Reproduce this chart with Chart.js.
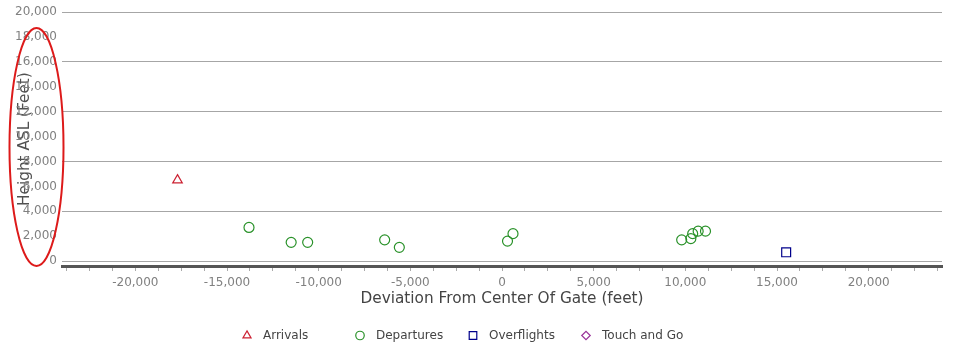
<!DOCTYPE html>
<html>
<head>
<meta charset="utf-8">
<script src="https://cdn.jsdelivr.net/npm/chart.js@4.4.1/dist/chart.umd.min.js"></script>
<style>
  html, body { margin: 0; padding: 0; background: #ffffff; }
  #wrap { position: relative; width: 961px; height: 356px; }
</style>
</head>
<body>
<div id="wrap"><canvas id="c" width="961" height="356"></canvas></div>
<script>
// ---- data ----
const seriesNames = ["Arrivals", "Departures", "Overflights", "Touch and Go"];
const arrivalsX = [-17700];
const arrivalsY = [6500];
const departuresX = [-13800, -11500, -10600, -6400, -5600, 300, 600, 9800, 10300, 10400, 10700, 11100];
const departuresY = [2700, 1500, 1500, 1700, 1100, 1600, 2200, 1700, 1800, 2200, 2400, 2400];
const overflightsX = [15500];
const overflightsY = [700];
const touchAndGoX = [];
const touchAndGoY = [];
const yTickValues = [0, 2000, 4000, 6000, 8000, 10000, 12000, 14000, 16000, 18000, 20000];
const xMinorTickValues = [];
for (let v = -23750; v <= 23750; v += 1250) xMinorTickValues.push(v);
const xLabelValues = [-20000, -15000, -10000, -5000, 0, 5000, 10000, 15000, 20000];

const toPts = (xs, ys) => xs.map((x, i) => ({ x: x, y: ys[i] }));
const fmt = v => v.toLocaleString('en-US');
const FONT = "'DejaVu Sans', Verdana, sans-serif";

const styles = [
  { color: '#cc2233', style: 'triangle', r: 5.5 },
  { color: '#2a922a', style: 'circle', r: 5 },
  { color: '#00008b', style: 'rect', r: 6.3 },
  { color: '#993399', style: 'rectRot', r: 5 }
];
const seriesData = [
  toPts(arrivalsX, arrivalsY),
  toPts(departuresX, departuresY),
  toPts(overflightsX, overflightsY),
  toPts(touchAndGoX, touchAndGoY)
];

const datasets = seriesNames.map((name, i) => ({
  label: name,
  data: seriesData[i],
  pointStyle: styles[i].style,
  pointRadius: styles[i].r,
  pointHoverRadius: styles[i].r,
  pointBorderWidth: 1.2,
  borderColor: styles[i].color,
  backgroundColor: 'rgba(0,0,0,0)',
  pointBackgroundColor: 'rgba(0,0,0,0)',
  pointBorderColor: styles[i].color
}));

const extras = {
  id: 'extras',
  afterDraw(chart) {
    const ctx = chart.ctx;
    // legend
    ctx.save();
    const startX = 247, step = 113, ly = 335.5;
    chart.data.datasets.forEach((ds, i) => {
      const cx = startX + i * step;
      ctx.strokeStyle = ds.pointBorderColor;
      ctx.fillStyle = 'rgba(0,0,0,0)';
      ctx.lineWidth = 1.2;
      Chart.helpers.drawPoint(ctx, { pointStyle: ds.pointStyle, radius: ds.pointRadius * 0.85, borderWidth: 1.2 }, cx, ly);
      ctx.fillStyle = '#444444';
      ctx.font = "12px " + FONT;
      ctx.textBaseline = 'middle';
      ctx.textAlign = 'left';
      ctx.fillText(ds.label, cx + 16, ly);
    });
    // red ellipse annotation
    ctx.beginPath();
    ctx.ellipse(36.5, 147, 27, 119, 0, 0, Math.PI * 2);
    ctx.strokeStyle = '#dd1a1a';
    ctx.lineWidth = 2;
    ctx.stroke();
    ctx.restore();
  }
};

new Chart(document.getElementById('c'), {
  type: 'scatter',
  data: { datasets: datasets },
  plugins: [extras],
  options: {
    responsive: false,
    devicePixelRatio: 1,
    animation: false,
    layout: { padding: { top: 10, right: 19, bottom: 0, left: 0 } },
    plugins: {
      legend: { display: false },
      tooltip: { enabled: false }
    },
    scales: {
      x: {
        type: 'linear',
        min: -24000,
        max: 24000,
        afterBuildTicks: axis => { axis.ticks = xMinorTickValues.map(v => ({ value: v })); },
        afterFit: axis => { axis.height = 90; },
        border: { display: true, color: '#555555', width: 3 },
        grid: { drawOnChartArea: false, drawTicks: true, tickLength: 5, color: '#aaaaaa', lineWidth: 1 },
        ticks: {
          autoSkip: false,
          maxRotation: 0,
          padding: 5,
          color: '#808080',
          font: { family: FONT, size: 12 },
          callback: v => (xLabelValues.includes(v) ? fmt(v) : '')
        },
        title: {
          display: true,
          text: 'Deviation From Center Of Gate (feet)',
          color: '#444444',
          font: { family: FONT, size: 15.3 },
          padding: { top: 4, bottom: 48 }
        }
      },
      y: {
        type: 'linear',
        min: -400,
        max: 20000,
        afterBuildTicks: axis => { axis.ticks = yTickValues.map(v => ({ value: v })); },
        afterFit: axis => { axis.width = 62; },
        border: { display: false },
        grid: {
          drawTicks: false,
          color: c => (c.tick && c.tick.value % 4000 === 0 ? '#a6a6a6' : 'rgba(0,0,0,0)'),
          lineWidth: 1
        },
        ticks: {
          padding: 5,
          color: '#808080',
          font: { family: FONT, size: 12 },
          callback: v => fmt(v)
        },
        title: {
          display: true,
          text: 'Height ASL (Feet)',
          color: '#505050',
          font: { family: FONT, size: 15.3 },
          padding: { top: 16, bottom: 0 }
        }
      }
    }
  }
});
</script>
</body>
</html>
